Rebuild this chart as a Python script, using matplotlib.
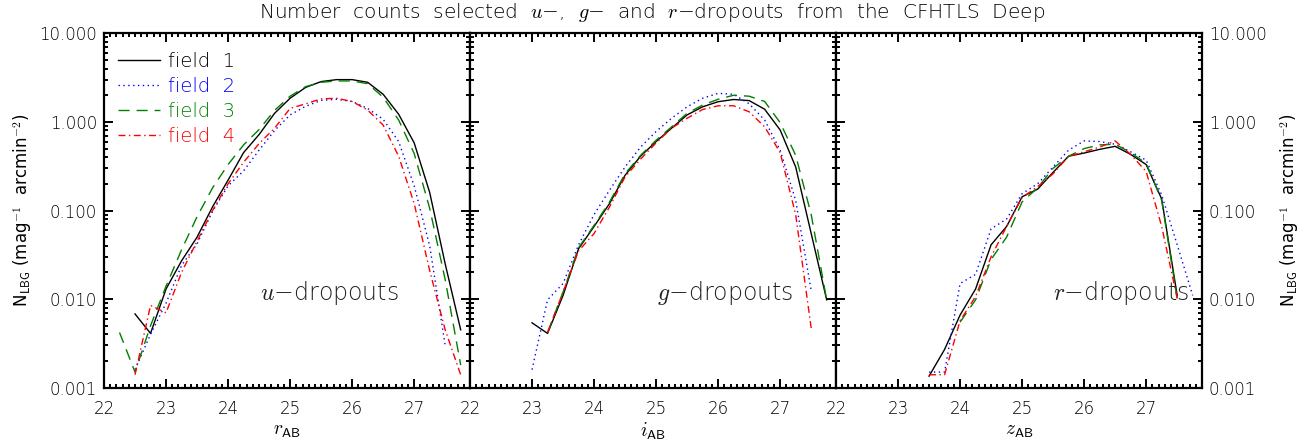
import matplotlib.pyplot as plt
import matplotlib.ticker as mticker
import numpy as np

plt.rcParams['font.family'] = 'DejaVu Sans'
plt.rcParams['font.weight'] = 'light'
plt.rcParams['mathtext.fontset'] = 'cm'

# u-dropouts (r_AB)
u_f1_x = [22.5, 22.75, 23.0, 23.25, 23.5, 23.75, 24.0, 24.25, 24.5, 24.75, 25.0,
          25.25, 25.5, 25.75, 26.0, 26.25, 26.5, 26.75, 27.0, 27.25, 27.5, 27.75]
u_f1_y = [0.0068, 0.0041, 0.013, 0.027, 0.05, 0.11, 0.22, 0.45, 0.72, 1.25, 1.85,
          2.45, 2.85, 3.0, 3.0, 2.8, 2.05, 1.22, 0.58, 0.16, 0.025, 0.0045]
u_f2_x = [22.5, 22.75, 23.0, 23.25, 23.5, 23.75, 24.0, 24.25, 24.5, 24.75, 25.0,
          25.25, 25.5, 25.75, 26.0, 26.25, 26.5, 26.75, 27.0, 27.25, 27.5]
u_f2_y = [0.0016, 0.004, 0.009, 0.024, 0.042, 0.098, 0.19, 0.28, 0.48, 0.8, 1.2,
          1.5, 1.75, 1.8, 1.7, 1.42, 1.07, 0.6, 0.19, 0.04, 0.003]
u_f3_x = [22.25, 22.5, 22.75, 23.0, 23.25, 23.5, 23.75, 24.0, 24.25, 24.5, 24.75, 25.0,
          25.25, 25.5, 25.75, 26.0, 26.25, 26.5, 26.75, 27.0, 27.25, 27.5, 27.75]
u_f3_y = [0.0042, 0.0015, 0.005, 0.014, 0.036, 0.085, 0.18, 0.33, 0.55, 0.82, 1.35, 1.95,
          2.5, 2.8, 2.9, 2.9, 2.7, 1.9, 1.05, 0.44, 0.106, 0.0166, 0.0018]
u_f4_x = [22.5, 22.75, 23.0, 23.25, 23.5, 23.75, 24.0, 24.25, 24.5, 24.75, 25.0,
          25.25, 25.5, 25.75, 26.0, 26.25, 26.5, 26.75, 27.0, 27.25, 27.5, 27.75]
u_f4_y = [0.0014, 0.0085, 0.007, 0.02, 0.045, 0.1, 0.2, 0.35, 0.57, 0.85, 1.42,
          1.6, 1.82, 1.85, 1.7, 1.36, 0.92, 0.41, 0.12, 0.021, 0.0045, 0.0014]

# g-dropouts (i_AB)
g_f1_x = [23.0, 23.25, 23.5, 23.75, 24.0, 24.25, 24.5, 24.75, 25.0, 25.25,
          25.5, 25.75, 26.0, 26.25, 26.5, 26.75, 27.0, 27.25, 27.5, 27.75]
g_f1_y = [0.0054, 0.0041, 0.011, 0.037, 0.066, 0.12, 0.25, 0.41, 0.6, 0.85,
          1.2, 1.48, 1.69, 1.79, 1.74, 1.39, 0.81, 0.31, 0.055, 0.0098]
g_f2_x = [23.0, 23.25, 23.5, 23.75, 24.0, 24.25, 24.5, 24.75, 25.0, 25.25,
          25.5, 25.75, 26.0, 26.25, 26.5, 26.75, 27.0, 27.25, 27.5]
g_f2_y = [0.0016, 0.0098, 0.015, 0.041, 0.09, 0.17, 0.31, 0.52, 0.78, 1.1,
          1.48, 1.85, 2.1, 2.05, 1.6, 1.05, 0.48, 0.13, 0.0125]
g_f3_x = [23.25, 23.5, 23.75, 24.0, 24.25, 24.5, 24.75, 25.0, 25.25,
          25.5, 25.75, 26.0, 26.25, 26.5, 26.75, 27.0, 27.25, 27.5, 27.75]
g_f3_y = [0.0042, 0.012, 0.038, 0.068, 0.125, 0.26, 0.42, 0.62, 0.88,
          1.25, 1.55, 1.8, 2.0, 1.95, 1.7, 0.98, 0.42, 0.09, 0.0098]
g_f4_x = [23.25, 23.5, 23.75, 24.0, 24.25, 24.5, 24.75, 25.0, 25.25,
          25.5, 25.75, 26.0, 26.25, 26.5, 26.75, 27.0, 27.25, 27.5]
g_f4_y = [0.0042, 0.012, 0.035, 0.055, 0.11, 0.24, 0.38, 0.58, 0.85,
          1.1, 1.38, 1.52, 1.52, 1.3, 0.88, 0.45, 0.09, 0.0047]

# r-dropouts (z_AB)
r_f1_x = [23.5, 23.75, 24.0, 24.25, 24.5, 24.75, 25.0, 25.25, 25.5, 25.75,
          26.0, 26.25, 26.5, 26.75, 27.0, 27.25, 27.5]
r_f1_y = [0.00135, 0.0027, 0.0066, 0.013, 0.041, 0.066, 0.143, 0.174, 0.27, 0.41,
          0.445, 0.49, 0.53, 0.43, 0.33, 0.135, 0.011]
r_f2_x = [23.5, 23.75, 24.0, 24.25, 24.5, 24.75, 25.0, 25.25, 25.5, 25.75,
          26.0, 26.25, 26.5, 26.75, 27.0, 27.25, 27.5, 27.75]
r_f2_y = [0.0015, 0.0015, 0.015, 0.019, 0.062, 0.08, 0.155, 0.2, 0.31, 0.48,
          0.61, 0.6, 0.56, 0.46, 0.37, 0.15, 0.041, 0.011]
r_f3_x = [24.0, 24.25, 24.5, 24.75, 25.0, 25.25, 25.5, 25.75,
          26.0, 26.25, 26.5, 26.75, 27.0, 27.25, 27.5]
r_f3_y = [0.0055, 0.0098, 0.028, 0.05, 0.125, 0.18, 0.3, 0.41,
          0.5, 0.55, 0.56, 0.45, 0.34, 0.13, 0.0102]
r_f4_x = [23.5, 23.75, 24.0, 24.25, 24.5, 24.75, 25.0, 25.25, 25.5, 25.75,
          26.0, 26.25, 26.5, 26.75, 27.0, 27.25, 27.5]
r_f4_y = [0.0014, 0.0014, 0.0057, 0.0107, 0.030, 0.066, 0.14, 0.186, 0.26, 0.41,
          0.46, 0.52, 0.61, 0.43, 0.275, 0.066, 0.0102]

field_labels = ['field  1', 'field  2', 'field  3', 'field  4']
field_colors = ['black', 'blue', 'green', 'red']
field_dashes = [None, (1, 2.5), (8, 5), (5, 2.5, 1, 2.5)]

ytick_vals = [0.001, 0.01, 0.1, 1.0, 10.0]
ytick_labels = ['0.001', '0.010', '0.100', '1.000', '10.000']
xtick_vals = [22, 23, 24, 25, 26, 27]

panels = [
    ('$u$\u2212dropouts', r'$r_{\mathsf{AB}}$', 24.52,
     [(u_f1_x, u_f1_y), (u_f2_x, u_f2_y), (u_f3_x, u_f3_y), (u_f4_x, u_f4_y)]),
    ('$g$\u2212dropouts', r'$i_{\mathsf{AB}}$', 25.01,
     [(g_f1_x, g_f1_y), (g_f2_x, g_f2_y), (g_f3_x, g_f3_y), (g_f4_x, g_f4_y)]),
    ('$r$\u2212dropouts', r'$z_{\mathsf{AB}}$', 25.5,
     [(r_f1_x, r_f1_y), (r_f2_x, r_f2_y), (r_f3_x, r_f3_y), (r_f4_x, r_f4_y)]),
]

W, H = 1305, 443
fig = plt.figure(figsize=(W / 100, H / 100), dpi=100)
lefts = [104, 470, 836]
axw = 366
ylab = r'N$_{\mathsf{LBG}}$ (mag$^{\mathsf{-1}}$  arcmin$^{\mathsf{-2}}$)'

for i, (name, xlab, tx, series) in enumerate(panels):
    ax = fig.add_axes([lefts[i] / W, 1 - 387.7 / H, axw / W, 354.4 / H])
    for (xs, ys), lab, col, ds in zip(series, field_labels, field_colors, field_dashes):
        line, = ax.plot(xs, ys, color=col, lw=1.0, label=lab)
        if ds is not None:
            line.set_dashes(ds)
    ax.set_yscale('log')
    ax.set_xlim(22, 27.9)
    ax.set_ylim(0.001, 10)
    ax.set_xticks(xtick_vals)
    ax.xaxis.set_minor_locator(mticker.MultipleLocator(0.1))
    ax.set_yticks(ytick_vals)
    ax.set_yticklabels(ytick_labels)
    ax.yaxis.set_minor_locator(mticker.LogLocator(base=10, subs=np.arange(2, 10)))
    ax.yaxis.set_minor_formatter(mticker.NullFormatter())
    ax.tick_params(which='both', direction='in', top=True, right=True,
                   labelsize=12, width=1.4)
    ax.tick_params(which='major', length=6.5)
    ax.tick_params(which='minor', length=3)
    ax.tick_params(axis='x', pad=9)
    ax.tick_params(axis='y', pad=5)
    for sp in ax.spines.values():
        sp.set_linewidth(1.6)
    ax.set_xlabel(xlab, fontsize=14, labelpad=2)
    ax.text(tx, 0.0098, name, fontsize=17, va='baseline', ha='left', color='#222222')
    if i == 0:
        ax.set_ylabel(ylab, fontsize=12)
        ax.legend(loc='upper left', frameon=False, fontsize=14, handlelength=2.2,
                  handletextpad=0.4, labelspacing=0.3, borderaxespad=0.3,
                  labelcolor='linecolor', bbox_to_anchor=(0.0, 0.985))
    elif i == 1:
        ax.tick_params(labelleft=False)
    else:
        ax.tick_params(labelleft=False, labelright=True)
        ax.yaxis.set_label_position('right')
        ax.set_ylabel(ylab, fontsize=12, rotation=90, labelpad=8)

fig.text(652 / W, 1 - 13 / H,
         'Number  counts  selected  $u$\u2212,  $g$\u2212  and  $r$\u2212dropouts  from  the  CFHTLS  Deep',
         ha='center', va='center', fontsize=14.5)

fig.savefig('out.png', dpi=100)
